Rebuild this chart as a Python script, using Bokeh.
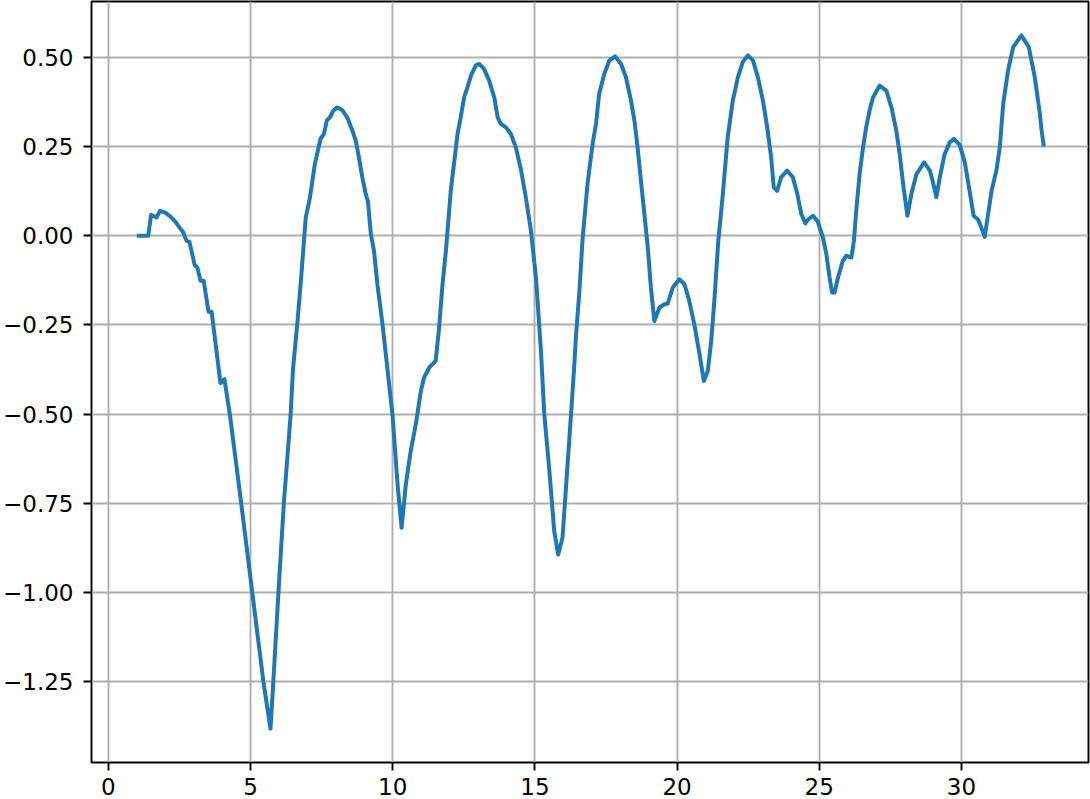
from bokeh.plotting import figure
from bokeh.models import FixedTicker, ColumnDataSource, Range1d
from bokeh.embed import file_html
from bokeh.resources import INLINE

x_vals = [1.00, 1.40, 1.50, 1.69, 1.81, 2.00, 2.18, 2.36, 2.53, 2.62, 2.75, 2.85,
          3.03, 3.13, 3.24, 3.35, 3.52, 3.63, 3.94, 4.08, 4.27, 4.67, 5.06, 5.45,
          5.70, 5.80, 5.98, 6.17, 6.41, 6.49, 6.65, 6.76, 6.94, 7.09, 7.26, 7.46,
          7.58, 7.68, 7.79, 7.91, 8.05, 8.22, 8.40, 8.58, 8.70, 8.81, 8.93, 9.05,
          9.13, 9.23, 9.34, 9.46, 9.64, 9.99, 10.17, 10.31, 10.46, 10.63, 10.81,
          10.99, 11.10, 11.28, 11.51, 11.63, 11.75, 11.87, 12.04, 12.28, 12.39,
          12.51, 12.63, 12.75, 12.92, 13.04, 13.21, 13.39, 13.57, 13.69, 13.80,
          13.98, 14.15, 14.33, 14.51, 14.68, 14.86, 15.04, 15.21, 15.33, 15.50,
          15.68, 15.82, 15.97, 16.06, 16.27, 16.38, 16.44, 16.56, 16.68, 16.85,
          17.03, 17.15, 17.26, 17.44, 17.62, 17.82, 18.03, 18.20, 18.38, 18.50,
          18.61, 18.73, 18.85, 18.97, 19.08, 19.20, 19.38, 19.55, 19.67, 19.85,
          20.08, 20.26, 20.43, 20.61, 20.79, 20.94, 21.08, 21.20, 21.31, 21.45,
          21.61, 21.78, 21.96, 22.14, 22.31, 22.49, 22.67, 22.84, 23.02, 23.17,
          23.31, 23.40, 23.52, 23.66, 23.87, 24.07, 24.23, 24.37, 24.51, 24.60,
          24.78, 24.95, 25.13, 25.25, 25.36, 25.45, 25.54, 25.66, 25.83, 25.95,
          26.13, 26.22, 26.30, 26.42, 26.54, 26.65, 26.77, 26.89, 27.12, 27.36,
          27.54, 27.71, 27.83, 27.95, 28.10, 28.24, 28.42, 28.69, 28.89, 29.00,
          29.12, 29.24, 29.41, 29.59, 29.74, 29.94, 30.12, 30.29, 30.43, 30.59,
          30.70, 30.82, 30.94, 31.06, 31.23, 31.35, 31.47, 31.64, 31.82, 32.11,
          32.37, 32.58, 32.76, 32.82, 32.90]

y_vals = [0.000, 0.000, 0.059, 0.051, 0.070, 0.065, 0.054, 0.039, 0.020, 0.011, -0.014, -0.017,
          -0.081, -0.090, -0.126, -0.126, -0.213, -0.213, -0.413, -0.402, -0.500, -0.750, -1.000, -1.250,
          -1.382, -1.250, -1.000, -0.750, -0.500, -0.376, -0.240, -0.136, 0.051, 0.108, 0.201, 0.272,
          0.286, 0.323, 0.332, 0.351, 0.360, 0.353, 0.332, 0.295, 0.267, 0.220, 0.164, 0.117,
          0.095, 0.005, -0.042, -0.136, -0.248, -0.501, -0.697, -0.819, -0.697, -0.604, -0.529,
          -0.435, -0.398, -0.370, -0.351, -0.258, -0.136, -0.042, 0.126, 0.286, 0.332,
          0.388, 0.417, 0.449, 0.478, 0.482, 0.468, 0.435, 0.388, 0.332, 0.314,
          0.304, 0.286, 0.248, 0.185, 0.108, 0.014, -0.120, -0.320, -0.501, -0.651,
          -0.829, -0.894, -0.847, -0.744, -0.501, -0.370, -0.286, -0.160, -0.005, 0.145,
          0.258, 0.314, 0.398, 0.454, 0.492, 0.503, 0.482, 0.445, 0.379, 0.323,
          0.248, 0.154, 0.061, -0.033, -0.145, -0.239, -0.201, -0.192, -0.190, -0.145,
          -0.122, -0.136, -0.183, -0.250, -0.332, -0.407, -0.379, -0.295, -0.183, -0.014,
          0.117, 0.276, 0.379, 0.445, 0.487, 0.506, 0.492, 0.445, 0.379, 0.304,
          0.220, 0.136, 0.126, 0.164, 0.183, 0.164, 0.117, 0.061, 0.035, 0.045,
          0.056, 0.040, -0.005, -0.051, -0.115, -0.159, -0.159, -0.117, -0.070, -0.056,
          -0.061, -0.014, 0.070, 0.173, 0.248, 0.304, 0.351, 0.388, 0.421, 0.407,
          0.360, 0.295, 0.229, 0.145, 0.056, 0.117, 0.173, 0.206, 0.183, 0.150,
          0.108, 0.164, 0.229, 0.262, 0.272, 0.255, 0.206, 0.125, 0.056, 0.045,
          0.023, -0.003, 0.061, 0.126, 0.183, 0.248, 0.370, 0.463, 0.529, 0.562,
          0.529, 0.445, 0.342, 0.295, 0.250]

x_ticks = [0, 5, 10, 15, 20, 25, 30]
y_ticks = [-1.25, -1.0, -0.75, -0.5, -0.25, 0.0, 0.25, 0.5]
y_tick_labels = ["\u22121.25", "\u22121.00", "\u22120.75", "\u22120.50", "\u22120.25",
                 "0.00", "0.25", "0.50"]

source = ColumnDataSource(data=dict(x=x_vals, y=y_vals))

p = figure(width=1090, height=799, output_backend="svg", toolbar_location=None,
           x_range=Range1d(-0.595, 34.47), y_range=Range1d(-1.477, 0.657),
           min_border_left=91, min_border_right=2, min_border_top=1, min_border_bottom=37)

p.line("x", "y", source=source, line_color="#1f77b4", line_width=4, line_join="round")

p.background_fill_color = "white"
p.border_fill_color = "white"
p.outline_line_color = "black"
p.outline_line_width = 1.9

for ax in (p.xaxis[0], p.yaxis[0]):
    ax.axis_line_color = None
    ax.major_tick_line_color = "black"
    ax.major_tick_line_width = 1.9
    ax.major_tick_out = 8
    ax.major_tick_in = 0
    ax.minor_tick_line_color = None
    ax.major_label_text_font = "DejaVu Sans"
    ax.major_label_text_font_size = "23px"
    ax.major_label_text_color = "black"

p.xaxis[0].ticker = FixedTicker(ticks=x_ticks)
p.yaxis[0].ticker = FixedTicker(ticks=y_ticks)
p.yaxis[0].major_label_overrides = {t: lab for t, lab in zip(y_ticks, y_tick_labels)}
p.xaxis[0].major_label_standoff = 7
p.yaxis[0].major_label_standoff = 10

p.xgrid[0].ticker = FixedTicker(ticks=x_ticks)
p.ygrid[0].ticker = FixedTicker(ticks=y_ticks)
for g in (p.xgrid[0], p.ygrid[0]):
    g.grid_line_color = "#b0b0b0"
    g.grid_line_width = 1.9

open("out.html", "w").write(file_html(p, INLINE))
